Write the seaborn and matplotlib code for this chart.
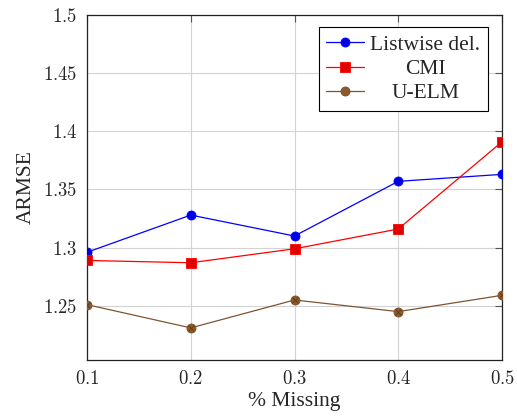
import matplotlib
matplotlib.use("Agg")
import matplotlib.pyplot as plt
import seaborn as sns
import pandas as pd
from matplotlib.ticker import FuncFormatter

missing = [0.1, 0.2, 0.3, 0.4, 0.5]
listwise = [1.296, 1.328, 1.310, 1.357, 1.363]
cmi = [1.289, 1.287, 1.299, 1.316, 1.391]
uelm = [1.251, 1.231, 1.255, 1.245, 1.259]
series_names = ["Listwise del.", "CMI", "U-ELM"]
xticks = [0.1, 0.2, 0.3, 0.4, 0.5]
yticks = [1.25, 1.3, 1.35, 1.4, 1.45, 1.5]

sns.set_style("white")
plt.rcParams["font.family"] = ["Liberation Serif", "DejaVu Serif"]
plt.rcParams["mathtext.fontset"] = "cm"

df = pd.DataFrame({
    "x": missing * 3,
    "y": listwise + cmi + uelm,
    "s": [series_names[0]] * 5 + [series_names[1]] * 5 + [series_names[2]] * 5,
})

fig = plt.figure(figsize=(5.17, 4.17), dpi=100)
ax = fig.add_axes([87 / 517, 1 - 360 / 417, (502 - 87) / 517, (360 - 15) / 417])

styles = {
    "Listwise del.": dict(color="#0000ff", marker="o", mfc="#0000e6", mec="#0000ff", ms=6.5),
    "CMI": dict(color="#ff0000", marker="s", mfc="#e00000", mec="#ff0000", ms=6.5),
    "U-ELM": dict(color="#7f5530", marker="o", mfc="#8c5a2a", mec="#7a4f26", ms=6.5),
}
for name in series_names:
    st = styles[name]
    sub = df[df["s"] == name]
    sns.lineplot(data=sub, x="x", y="y", ax=ax, color=st["color"], lw=0.9,
                 marker=st["marker"], markersize=st["ms"], markerfacecolor=st["mfc"],
                 markeredgecolor=st["mec"], markeredgewidth=0.6, label=name, zorder=3)
sub = df[df["s"] == "U-ELM"]
ax.plot(sub["x"], sub["y"], ls="none", marker="x", ms=4.2, mec="#5a3a1a", mew=0.6, zorder=4)

ax.set_xlim(0.1, 0.5)
ax.set_ylim(1.2034, 1.5)
ax.set_xticks(xticks)
ax.set_yticks(yticks)
ax.xaxis.set_major_formatter(FuncFormatter(lambda v, p: f"${v:g}$"))
ax.yaxis.set_major_formatter(FuncFormatter(lambda v, p: f"${v:g}$"))
ax.tick_params(axis="both", labelsize=13.5, direction="in", length=5, width=0.8,
               color="#555555", top=True, right=True, pad=7)
ax.grid(True, color="#d3d3d3", lw=0.8)
for sp in ax.spines.values():
    sp.set_color("#222222")
    sp.set_linewidth(0.9)
ax.set_xlabel("% Missing", fontsize=15.5, labelpad=3)
ax.set_ylabel("ARMSE", fontsize=15.5, labelpad=5)

leg = ax.legend(loc="upper right", bbox_to_anchor=(0.966, 0.965), fontsize=15.5,
                frameon=True, fancybox=False, edgecolor="#000000", framealpha=1,
                borderaxespad=0, handlelength=1.75, borderpad=0.35, labelspacing=0.2,
                handletextpad=0.3)
leg.get_frame().set_linewidth(0.8)
renderer = fig.canvas.get_renderer()
widths = [t.get_window_extent(renderer).width for t in leg.get_texts()]
maxw = max(widths)
for t, w in zip(leg.get_texts(), widths):
    t.set_position(((maxw - w) / 2, 0))

fig.savefig("out.png", dpi=100)
